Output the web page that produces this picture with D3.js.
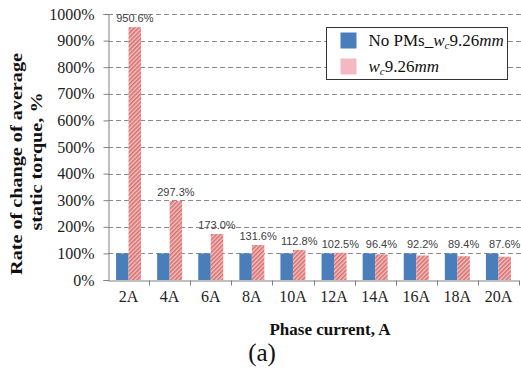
<!DOCTYPE html>
<html>
<head>
<meta charset="utf-8">
<script src="https://cdn.jsdelivr.net/npm/d3@7"></script>
<style>
  body { margin: 0; background: #fff; }
  svg { display: block; }
  .serif { font-family: 'Liberation Serif', 'Times New Roman', serif; }
  .sans { font-family: 'Liberation Sans', Arial, sans-serif; }
</style>
</head>
<body>
<script>
const width = 521;
const height = 373;

// chart data
const categories = ["2A", "4A", "6A", "8A", "10A", "12A", "14A", "16A", "18A", "20A"];
const noPMs = [100, 100, 100, 100, 100, 100, 100, 100, 100, 100];
const withPMs = [950.6, 297.3, 173.0, 131.6, 112.8, 102.5, 96.4, 92.2, 89.4, 87.6];
const yTicks = [0, 100, 200, 300, 400, 500, 600, 700, 800, 900, 1000];

const margin = { left: 108, right: 2, top: 14, bottom: 93 };

let svg = d3
    .select("body")
    .append("svg")
    .attr("width", width)
    .attr("height", height);

// hatched fill for the second series
const defs = svg.append("defs");
const pat = defs.append("pattern")
    .attr("id", "hatch")
    .attr("patternUnits", "userSpaceOnUse")
    .attr("width", 3)
    .attr("height", 3)
    .attr("patternTransform", "rotate(45)");
pat.append("rect").attr("width", 3).attr("height", 3).attr("fill", "#f2c2c2");
pat.append("rect").attr("width", 1.6).attr("height", 3).attr("fill", "#d87170");

const x = d3.scaleBand()
    .domain(categories)
    .range([margin.left, width - margin.right]);

const y = d3.scaleLinear()
    .domain([0, 1000])
    .range([height - margin.bottom, margin.top]);

const barW = 12.5;

// gridlines
svg.append("g")
    .selectAll("line")
    .data(yTicks.filter(d => d > 0))
    .join("line")
    .attr("x1", margin.left)
    .attr("x2", width)
    .attr("y1", d => Math.round(y(d)) + 0.5)
    .attr("y2", d => Math.round(y(d)) + 0.5)
    .attr("stroke", "#8c8c8c")
    .attr("stroke-width", 1)
    .attr("stroke-dasharray", "5,3");

// bars
svg.append("g")
    .selectAll("rect")
    .data(noPMs)
    .join("rect")
    .attr("x", (d, i) => x(categories[i]) + x.bandwidth() / 2 - barW)
    .attr("y", d => y(d))
    .attr("width", barW)
    .attr("height", d => y(0) - y(d))
    .attr("fill", "#4a7ebb");

svg.append("g")
    .selectAll("rect")
    .data(withPMs)
    .join("rect")
    .attr("x", (d, i) => x(categories[i]) + x.bandwidth() / 2)
    .attr("y", d => y(d))
    .attr("width", barW)
    .attr("height", d => y(0) - y(d))
    .attr("fill", "url(#hatch)");

// value labels
svg.append("g")
    .selectAll("text")
    .data(withPMs)
    .join("text")
    .attr("class", "sans")
    .attr("x", (d, i) => x(categories[i]) + x.bandwidth() / 2 + barW / 2)
    .attr("y", d => Math.min(y(d), y(100)) - 5)
    .attr("text-anchor", "middle")
    .attr("font-size", 11)
    .attr("fill", "#404040")
    .text(d => d.toFixed(1) + "%");

// y axis
const yAxis = svg.append("g")
    .attr("transform", `translate(${margin.left + 0.5},0)`)
    .call(d3.axisLeft(y).tickValues(yTicks).tickSize(5).tickFormat(d => d + "%"));
yAxis.attr("font-family", null);
yAxis.select(".domain").attr("stroke", "#808080");
yAxis.selectAll(".tick line").attr("stroke", "#808080");
yAxis.selectAll(".tick text")
    .attr("class", "serif")
    .attr("font-size", 16)
    .attr("fill", "#222")
    .attr("x", -14);

// x axis
const xAxis = svg.append("g")
    .attr("transform", `translate(0,${Math.round(y(0)) + 0.5})`)
    .call(d3.axisBottom(x).tickSize(0).tickPadding(10));
xAxis.attr("font-family", null);
xAxis.select(".domain").attr("stroke", "#808080");
xAxis.selectAll(".tick text")
    .attr("class", "serif")
    .attr("font-size", 16)
    .attr("fill", "#222");
// category boundary ticks
xAxis.append("g")
    .selectAll("line")
    .data(categories)
    .join("line")
    .attr("x1", d => Math.round(x(d) + x.bandwidth()) + 0.5)
    .attr("x2", d => Math.round(x(d) + x.bandwidth()) + 0.5)
    .attr("y1", 0)
    .attr("y2", 5)
    .attr("stroke", "#808080");

// axis titles - the y title in the source is stretched along its length
const yTitle = svg.append("text")
    .attr("class", "serif")
    .attr("text-anchor", "middle")
    .attr("font-size", 16)
    .attr("font-weight", "bold")
    .attr("fill", "#111");
yTitle.append("tspan").attr("x", 0).attr("y", 0).text("Rate of change of average");
yTitle.append("tspan").attr("x", 2).attr("y", 20).text("static torque, %");
const natural = yTitle.select("tspan").node().getComputedTextLength();
const stretch = natural > 0 ? 222 / natural : 1;
yTitle.attr("transform", `translate(22,164) rotate(-90) scale(${stretch},1)`);

svg.append("text")
    .attr("class", "serif")
    .attr("x", 330)
    .attr("y", 335)
    .attr("text-anchor", "middle")
    .attr("font-size", 17)
    .attr("font-weight", "bold")
    .attr("fill", "#111")
    .text("Phase current, A");

svg.append("text")
    .attr("class", "serif")
    .attr("x", 262)
    .attr("y", 361)
    .attr("text-anchor", "middle")
    .attr("font-size", 25)
    .attr("fill", "#111")
    .text("(a)");

// legend
const legend = svg.append("g").attr("transform", "translate(326.5,27.5)");
legend.append("rect")
    .attr("width", 181)
    .attr("height", 52)
    .attr("fill", "#fff")
    .attr("stroke", "#333");
const items = [
    { fill: "#4a7ebb", pre: "No PMs_" },
    { fill: "#f4b8c2", pre: "" }
];
items.forEach((it, i) => {
    const g = legend.append("g").attr("transform", `translate(14,${5 + i * 26})`);
    g.append("rect").attr("width", 16).attr("height", 16).attr("fill", it.fill);
    const t = g.append("text")
        .attr("class", "serif")
        .attr("x", 28)
        .attr("y", 13)
        .attr("font-size", 17)
        .attr("fill", "#111");
    if (it.pre) t.append("tspan").text(it.pre);
    t.append("tspan").attr("font-style", "italic").text("w");
    t.append("tspan").attr("font-style", "italic").attr("font-size", 11).attr("dy", 3).text("c");
    t.append("tspan").attr("dy", -3).text("9.26");
    t.append("tspan").attr("font-style", "italic").text("mm");
});
</script>
</body>
</html>
